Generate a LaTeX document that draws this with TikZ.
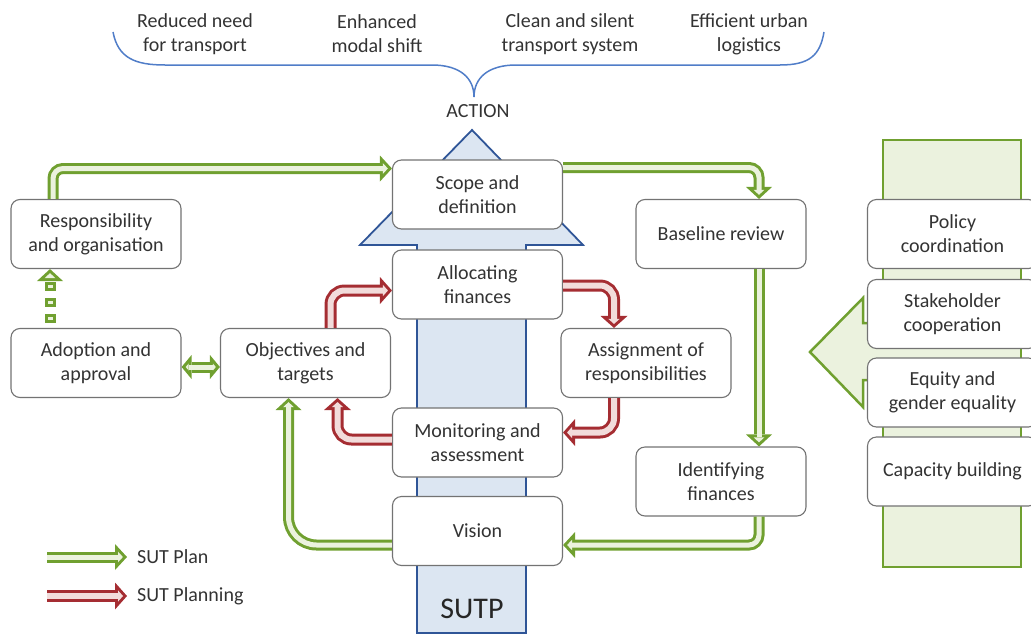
\documentclass[tikz,border=0pt]{standalone}
\usepackage{fontspec}
\setmainfont{Carlito}
\usepackage{tikz}
\usetikzlibrary{arrows.meta,calc}
\definecolor{plangreen}{RGB}{112,160,48}
\definecolor{planfill}{RGB}{235,242,222}
\definecolor{planningred}{RGB}{165,45,50}
\definecolor{planningfill}{RGB}{242,220,219}
\definecolor{sutpblue}{RGB}{47,85,151}
\definecolor{sutpfill}{RGB}{220,230,242}
\definecolor{bracebl}{RGB}{80,125,200}
\tikzset{
  sutbox/.style={draw=black!55, fill=white, rounded corners=9pt, line width=1.1pt, align=center,
    minimum width=170pt, minimum height=69pt, inner sep=3pt, text=black!80},
  toptext/.style={align=center, text=black!80},
  sutplan/.style={draw=plangreen, line width=11pt, rounded corners=10pt,
    -{Triangle[length=12pt, width=26pt, line width=0pt]},
    postaction={draw=planfill, line width=5pt, shorten >=4.1pt,
      -{Triangle[length=4.9pt, width=10.6pt, line width=0pt]}}},
  sutplanboth/.style={draw=plangreen, line width=11pt,
    {Triangle[length=10pt, width=24pt, line width=0pt]}-{Triangle[length=10pt, width=24pt, line width=0pt]},
    postaction={draw=planfill, line width=5pt, shorten >=4.1pt, shorten <=4.1pt,
      {Triangle[length=3pt, width=7pt, line width=0pt]}-{Triangle[length=3pt, width=7pt, line width=0pt]}}},
  sutplandash/.style={draw=plangreen, line width=11pt, dash pattern=on 9pt off 7pt, dash phase=11pt,
    -{Triangle[length=12pt, width=26pt, line width=0pt]},
    postaction={draw=planfill, line width=5pt, shorten >=4.1pt, dash pattern=on 3pt off 13pt, dash phase=8pt,
      -{Triangle[length=4.9pt, width=10.6pt, line width=0pt]}}},
  sutplanning/.style={draw=planningred, line width=12pt, rounded corners=14pt,
    -{Triangle[length=12pt, width=27pt, line width=0pt]},
    postaction={draw=planningfill, line width=6pt, shorten >=4pt,
      -{Triangle[length=5pt, width=11.2pt, line width=0pt]}}},
}

\begin{document}
\begin{tikzpicture}[x=1pt, y=-1pt, every node/.style={font=\fontsize{20}{24}\selectfont}]
  \useasboundingbox (0,0) rectangle (1031,635);

  % SUTP arrow and side panel
  \filldraw[draw=sutpblue, fill=sutpfill, line width=1.8pt, line join=miter]
    (417,633) -- (417,245) -- (360,245) -- (472,130) -- (583,245) -- (526,245) -- (526,633) -- cycle;
  \filldraw[draw=plangreen, fill=planfill, line width=2.5pt] (883,140) rectangle (1021,567);
  \fill[planfill] (890,323) -- (863,323) -- (863,298) -- (810,352) -- (863,407) -- (863,380) -- (890,380) -- cycle;
  \draw[plangreen, line width=2.5pt, line join=miter]
    (883,323) -- (863,323) -- (863,298) -- (810,352) -- (863,407) -- (863,380) -- (883,380);

  % brace
  \draw[bracebl, line width=1.5pt] (113,32) .. controls (118,58) and (135,65) .. (165,65) -- (432,65)
    .. controls (460,65) and (474,78) .. (474,97) .. controls (474,78) and (488,65) .. (516,65)
    -- (780,65) .. controls (810,65) and (820,55) .. (824,32);

  \node[toptext] (need) at (195,34) {Reduced need\\for transport};
  \node[toptext] (shift) at (377,34) {Enhanced\\modal shift};
  \node[toptext] (clean) at (570,34) {Clean and silent\\transport system};
  \node[toptext] (logistics) at (749,34) {Efficient urban\\logistics};
  \node[toptext] (action) at (478,111) {ACTION};
  \node[text=black!85, font=\fontsize{30}{36}\selectfont] (sutp) at (472,609) {SUTP};

  % boxes
  \node[sutbox] (scope) at (477.5,194.5) {Scope and\\definition};
  \node[sutbox] (alloc) at (477.5,284.5) {Allocating\\finances};
  \node[sutbox] (monitor) at (477.5,442.5) {Monitoring and\\assessment};
  \node[sutbox] (vision) at (477.5,531) {Vision};
  \node[sutbox] (resp) at (96,234) {Responsibility\\and organisation};
  \node[sutbox] (adopt) at (96,363) {Adoption and\\approval};
  \node[sutbox] (obj) at (305.5,363) {Objectives and\\targets};
  \node[sutbox] (baseline) at (721,234) {Baseline review};
  \node[sutbox] (assign) at (646,363) {Assignment of\\responsibilities};
  \node[sutbox] (ident) at (721,481.5) {Identifying\\finances};
  \node[sutbox] (policy) at (952.5,234) {Policy\\coordination};
  \node[sutbox] (stake) at (952.5,314) {Stakeholder\\cooperation};
  \node[sutbox] (equity) at (952.5,392.5) {Equity and\\gender equality};
  \node[sutbox] (capacity) at (952.5,471.5) {Capacity building};

  % SUT plan
  \draw[sutplan] ([xshift=-43pt]resp.north) |- ([yshift=26pt]scope.west);
  \draw[sutplan] ([yshift=27pt]scope.east) -| ([xshift=38pt]baseline.north);
  \draw[sutplan] ([xshift=38pt]baseline.south) -- ([xshift=38pt]ident.north);
  \draw[sutplan] ([xshift=38pt]ident.south) |- ([yshift=-14pt]vision.east);
  \draw[sutplan, rounded corners=28pt] ([yshift=-14pt]vision.west) -| ([xshift=-17pt]obj.south);
  \draw[sutplanboth] ([yshift=-4pt]adopt.east) -- ([yshift=-4pt]obj.west);
  \draw[sutplandash] ([xshift=-46pt]adopt.north) -- ([xshift=-46pt]resp.south);

  % SUT planning
  \draw[sutplanning] ([xshift=25pt]obj.north) |- ([yshift=-6pt]alloc.west);
  \draw[sutplanning] ([yshift=-1pt]alloc.east) -| ([xshift=-32pt]assign.north);
  \draw[sutplanning] ([xshift=-32pt]assign.south) |- ([yshift=10pt]monitor.east);
  \draw[sutplanning] ([yshift=3pt]monitor.west) -| ([xshift=32pt]obj.south);

  % legend
  \node[anchor=west, inner xsep=10pt, text=black!80] (planlbl) at (127,557) {SUT Plan};
  \node[anchor=west, inner xsep=10pt, text=black!80] (planninglbl) at (127,596) {SUT Planning};
  \coordinate (planstart) at (47,557);
  \coordinate (planningstart) at (47,596);
  \draw[sutplan] (planstart) -- (planlbl.west);
  \draw[sutplanning] (planningstart) -- (planninglbl.west);
\end{tikzpicture}
\end{document}
